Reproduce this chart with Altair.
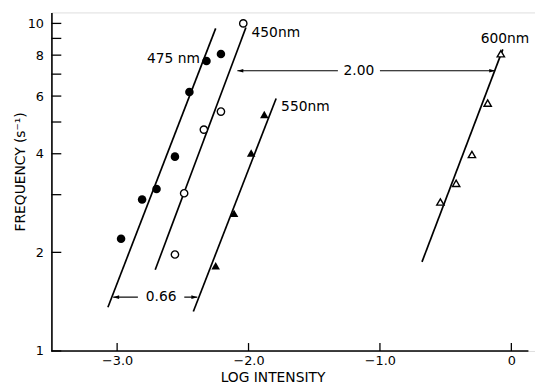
import altair as alt
import pandas as pd

# ---- data ----
x475 = [-2.97, -2.81, -2.70, -2.56, -2.45, -2.32, -2.21]
y475 = [2.20, 2.90, 3.12, 3.92, 6.17, 7.68, 8.07]
x450 = [-2.56, -2.49, -2.34, -2.21, -2.04]
y450 = [1.97, 3.03, 4.74, 5.38, 10.0]
x550 = [-2.25, -2.11, -1.98, -1.88]
y550 = [1.82, 2.63, 4.02, 5.27]
x600 = [-0.54, -0.42, -0.30, -0.18, -0.08]
y600 = [2.85, 3.25, 3.98, 5.71, 8.08]

# fitted lines (end points)
fit_series = ["475", "475", "450", "450", "550", "550", "600", "600"]
fit_x = [-3.07, -2.25, -2.71, -2.02, -2.42, -1.79, -0.68, -0.065]
fit_y = [1.36, 9.66, 1.77, 9.72, 1.32, 5.90, 1.87, 8.33]

# curve labels
lab_text = ["450nm", "550nm", "600nm"]
lab_x = [-1.977, -1.752, -0.233]
lab_y = [9.33, 5.55, 8.95]

y_ticks = [1, 2, 3, 4, 5, 6, 7, 8, 9, 10]
x_ticks = [-3.0, -2.0, -1.0, 0.0]

# annotation arrows
arrow200_y = 7.17
arrow200_x = [-2.085, -0.123]
arrow200_gap = [-1.32, -1.00]
arrow066_y = 1.46
arrow066_x = [-3.03, -2.39]
arrow066_gap = [-2.842, -2.489]

W, H = 490, 343
FONT = "DejaVu Sans"
xs = alt.Scale(domain=[-3.5, 0.18], nice=False, zero=False)
ys = alt.Scale(type="log", domain=[1, 10.8], nice=False)

XAXIS = alt.Axis(
    values=x_ticks, labelExpr="datum.value==0 ? '0' : format(datum.value, '.1f')",
    ticks=False, tickSize=0, labelPadding=4, labelFontSize=13, labelFont=FONT, labelColor="black",
    domain=False, grid=False,
    title="LOG INTENSITY", titleFont=FONT, titleFontSize=14, titleFontWeight="normal",
    titleX=224, titleY=27, titleAlign="center", titleBaseline="middle", titleColor="black")
YAXIS = alt.Axis(
    values=y_ticks,
    labelExpr="datum.value==3||datum.value==5||datum.value==7||datum.value==9 ? '' : format(datum.value, 'd')",
    ticks=False, tickSize=0, labelPadding=8, labelFontSize=13, labelFont=FONT, labelColor="black",
    domainColor="black", domainWidth=1.6, grid=False,
    title="FREQUENCY (s⁻¹)", titleFont=FONT, titleFontSize=14, titleFontWeight="normal",
    titleX=-31, titleY=161, titleAngle=-90, titleAlign="center", titleBaseline="middle",
    titleColor="black")


def X(f="x"):
    return alt.X(f"{f}:Q", scale=xs, axis=XAXIS)


def Y(f="y"):
    return alt.Y(f"{f}:Q", scale=ys, axis=YAXIS)


pts = pd.DataFrame({
    "x": x475 + x450 + x550 + x600,
    "y": y475 + y450 + y550 + y600,
    "s": ["475"] * len(x475) + ["450"] * len(x450) + ["550"] * len(x550) + ["600"] * len(x600),
})
fits = pd.DataFrame({"x": fit_x, "y": fit_y, "s": fit_series})

y_tick_rules = alt.Chart(pd.DataFrame({"y": y_ticks})).mark_rule(
    color="black", strokeWidth=1.3
).encode(x=alt.value(0), x2=alt.value(10), y=Y())

x_tick_rules = alt.Chart(pd.DataFrame({"x": x_ticks})).mark_rule(
    color="black", strokeWidth=1.3
).encode(x=X(), y=alt.value(H), y2=alt.value(H - 8))

x_domain = alt.Chart(pd.DataFrame({"x": [-3.5], "b": [0.13], "y": [1]})).mark_rule(
    color="black", strokeWidth=1.6
).encode(x=X(), x2="b:Q", y=Y())

lines = alt.Chart(fits).mark_line(color="black", strokeWidth=1.7).encode(
    x=X(), y=Y(), detail="s:N")


def series_points(s, shape, filled, size):
    return alt.Chart(pts[pts.s == s]).mark_point(
        shape=shape, filled=filled, size=size, color="black",
        fill="black" if filled else "white", stroke="black",
        strokeWidth=0 if filled else 1.4, opacity=1, fillOpacity=1,
    ).encode(x=X(), y=Y())


p475 = series_points("475", "circle", True, 75)
p450 = series_points("450", "circle", False, 55)
p550 = series_points("550", "triangle-up", True, 75)
p600 = series_points("600", "triangle-up", False, 55)

labels = alt.Chart(pd.DataFrame({"x": lab_x, "y": lab_y, "t": lab_text})).mark_text(
    align="left", baseline="middle", font=FONT, fontSize=14, color="black"
).encode(x=X(), y=Y(), text="t:N")
lab475 = alt.Chart(pd.DataFrame({"x": [-2.37], "y": [7.79], "t": ["475 nm"]})).mark_text(
    align="right", baseline="middle", font=FONT, fontSize=14, color="black"
).encode(x=X(), y=Y(), text="t:N")

# arrows
seg = pd.DataFrame({
    "x": [arrow200_x[0], arrow200_gap[1], arrow066_x[0], arrow066_gap[1]],
    "b": [arrow200_gap[0], arrow200_x[1], arrow066_gap[0], arrow066_x[1]],
    "y": [arrow200_y, arrow200_y, arrow066_y, arrow066_y],
})
arrow_lines = alt.Chart(seg).mark_rule(color="black", strokeWidth=1.2).encode(
    x=X(), x2="b:Q", y=Y())
heads_l = alt.Chart(pd.DataFrame({"x": [arrow200_x[0], arrow066_x[0]], "y": [arrow200_y, arrow066_y]})).mark_point(
    shape="M0,0L2,-0.6L2,0.6Z", filled=True, size=36, color="black", opacity=1).encode(x=X(), y=Y())
heads_r = alt.Chart(pd.DataFrame({"x": [arrow200_x[1], arrow066_x[1]], "y": [arrow200_y, arrow066_y]})).mark_point(
    shape="M0,0L-2,-0.6L-2,0.6Z", filled=True, size=36, color="black", opacity=1).encode(x=X(), y=Y())
arrow_text = alt.Chart(pd.DataFrame({
    "x": [(arrow200_gap[0] + arrow200_gap[1]) / 2, (arrow066_gap[0] + arrow066_gap[1]) / 2],
    "y": [arrow200_y, arrow066_y], "t": ["2.00", "0.66"]})).mark_text(
    align="center", baseline="middle", font=FONT, fontSize=14, color="black"
).encode(x=X(), y=Y(), text="t:N")

chart = alt.layer(
    y_tick_rules, x_tick_rules, x_domain, lines, p475, p450, p550, p600,
    labels, lab475, arrow_lines, heads_l, heads_r, arrow_text,
).properties(
    width=W, height=H,
    autosize=alt.AutoSizeParams(type="none"),
    padding={"left": 44, "top": 2, "right": 0, "bottom": 34},
).configure_view(stroke=None).configure(background="white")

chart.save("out.html", embed_options={"renderer": "svg", "actions": False})
